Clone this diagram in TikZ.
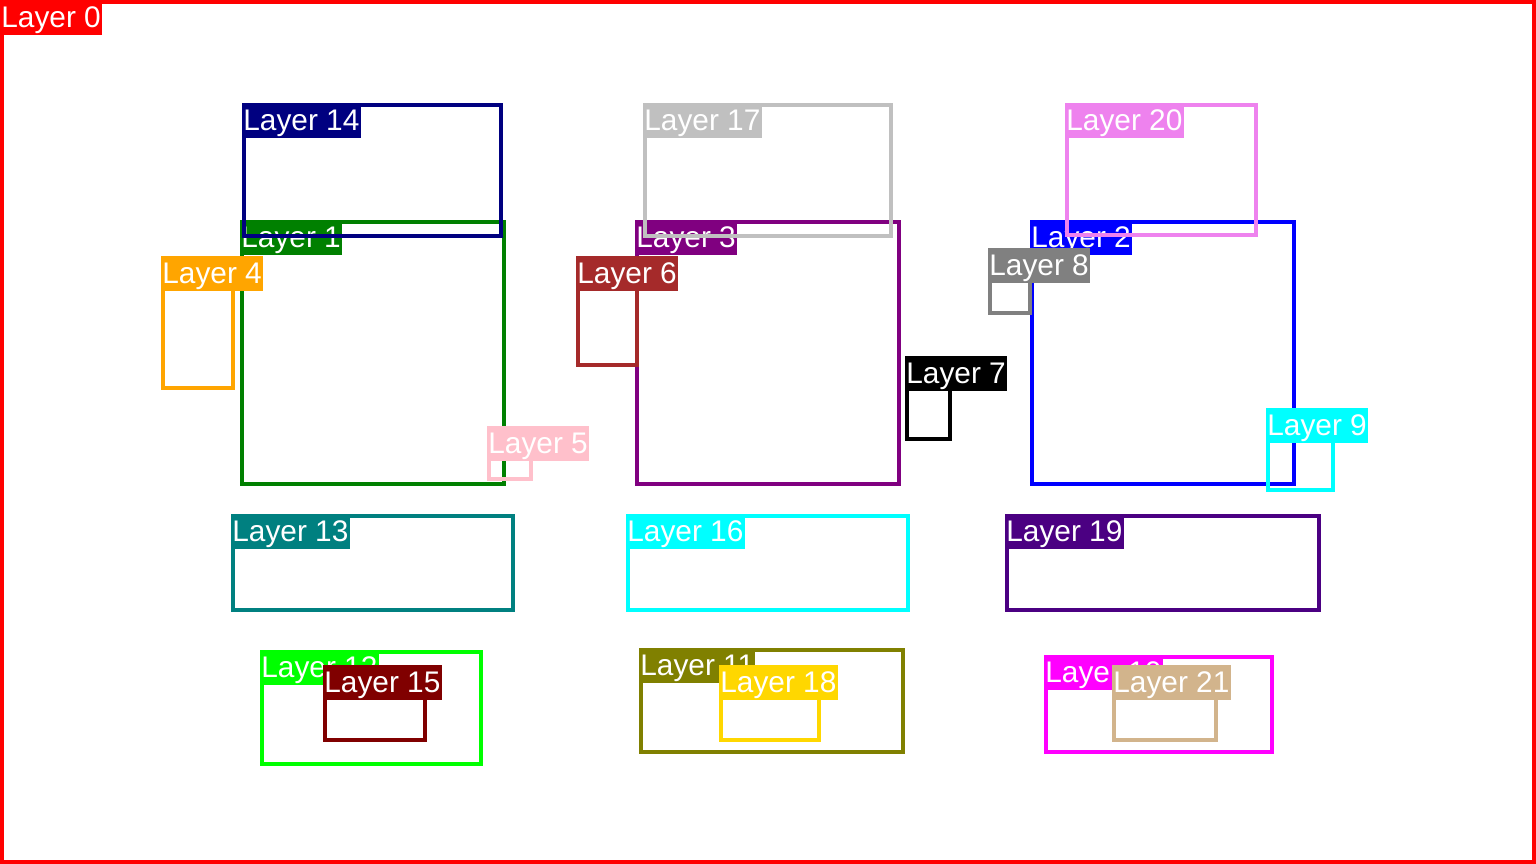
\documentclass[tikz,border=0pt]{standalone}
\usepackage{fontspec}
\setmainfont{Liberation Sans}
\definecolor{cNavy}{HTML}{000080}
\definecolor{cGreen}{HTML}{008000}
\definecolor{cPurple}{HTML}{800080}
\definecolor{cOrange}{HTML}{FFA500}
\definecolor{cPink}{HTML}{FFC0CB}
\definecolor{cBrown}{HTML}{A52A2A}
\definecolor{cGray}{HTML}{808080}
\definecolor{cAqua}{HTML}{00FFFF}
\definecolor{cMagenta}{HTML}{FF00FF}
\definecolor{cOlive}{HTML}{808000}
\definecolor{cLime}{HTML}{00FF00}
\definecolor{cTeal}{HTML}{008080}
\definecolor{cMaroon}{HTML}{800000}
\definecolor{cSilver}{HTML}{C0C0C0}
\definecolor{cGold}{HTML}{FFD700}
\definecolor{cIndigo}{HTML}{4B0082}
\definecolor{cViolet}{HTML}{EE82EE}
\definecolor{cTan}{HTML}{D2B48C}
\definecolor{cRed}{HTML}{FF0000}
\definecolor{cBlue}{HTML}{0000FF}
\tikzset{
  layerframe/.style={line width=4pt},
  layerlabel/.style={anchor=north west, inner xsep=1.2pt, inner ysep=0pt,
    text height=27.5pt, text depth=7pt, text=white,
    font=\fontsize{29.8}{30}\selectfont}
}
% \layerbox{index}{colour}{left}{top}{right}{bottom}: outer edges in px
\newcommand{\layerbox}[6]{%
  \draw[layerframe, draw=#2] ({#3+2},{#4+2}) rectangle ({#5-2},{#6-2});
  \node[layerlabel, fill=#2] (lab#1) at (#3,#4) {Layer #1};
}
\begin{document}
\begin{tikzpicture}[x=1pt,y=-1pt]
\useasboundingbox (0,0) rectangle (1536,864);
\layerbox{0}{cRed}{0}{0}{1536}{864}
\layerbox{1}{cGreen}{240}{220}{506}{486}
\layerbox{2}{cBlue}{1030}{220}{1296}{486}
\layerbox{3}{cPurple}{635}{220}{901}{486}
\layerbox{4}{cOrange}{161}{256}{235}{390}
\layerbox{5}{cPink}{487}{426}{533}{481}
\layerbox{6}{cBrown}{576}{256}{639}{367}
\layerbox{7}{black}{905}{356}{952}{441}
\layerbox{8}{cGray}{988}{248}{1032}{315}
\layerbox{9}{cAqua}{1266}{408}{1335}{492}
\layerbox{10}{cMagenta}{1044}{655}{1274}{754}
\layerbox{11}{cOlive}{639}{648}{905}{754}
\layerbox{12}{cLime}{260}{650}{483}{766}
\layerbox{13}{cTeal}{231}{514}{515}{612}
\layerbox{14}{cNavy}{242}{103}{503}{238}
\layerbox{15}{cMaroon}{323}{665}{427}{742}
\layerbox{16}{cAqua}{626}{514}{910}{612}
\layerbox{17}{cSilver}{643}{103}{893}{238}
\layerbox{18}{cGold}{719}{665}{821}{742}
\layerbox{19}{cIndigo}{1005}{514}{1321}{612}
\layerbox{20}{cViolet}{1065}{103}{1258}{237}
\layerbox{21}{cTan}{1112}{665}{1218}{742}
\end{tikzpicture}
\end{document}
